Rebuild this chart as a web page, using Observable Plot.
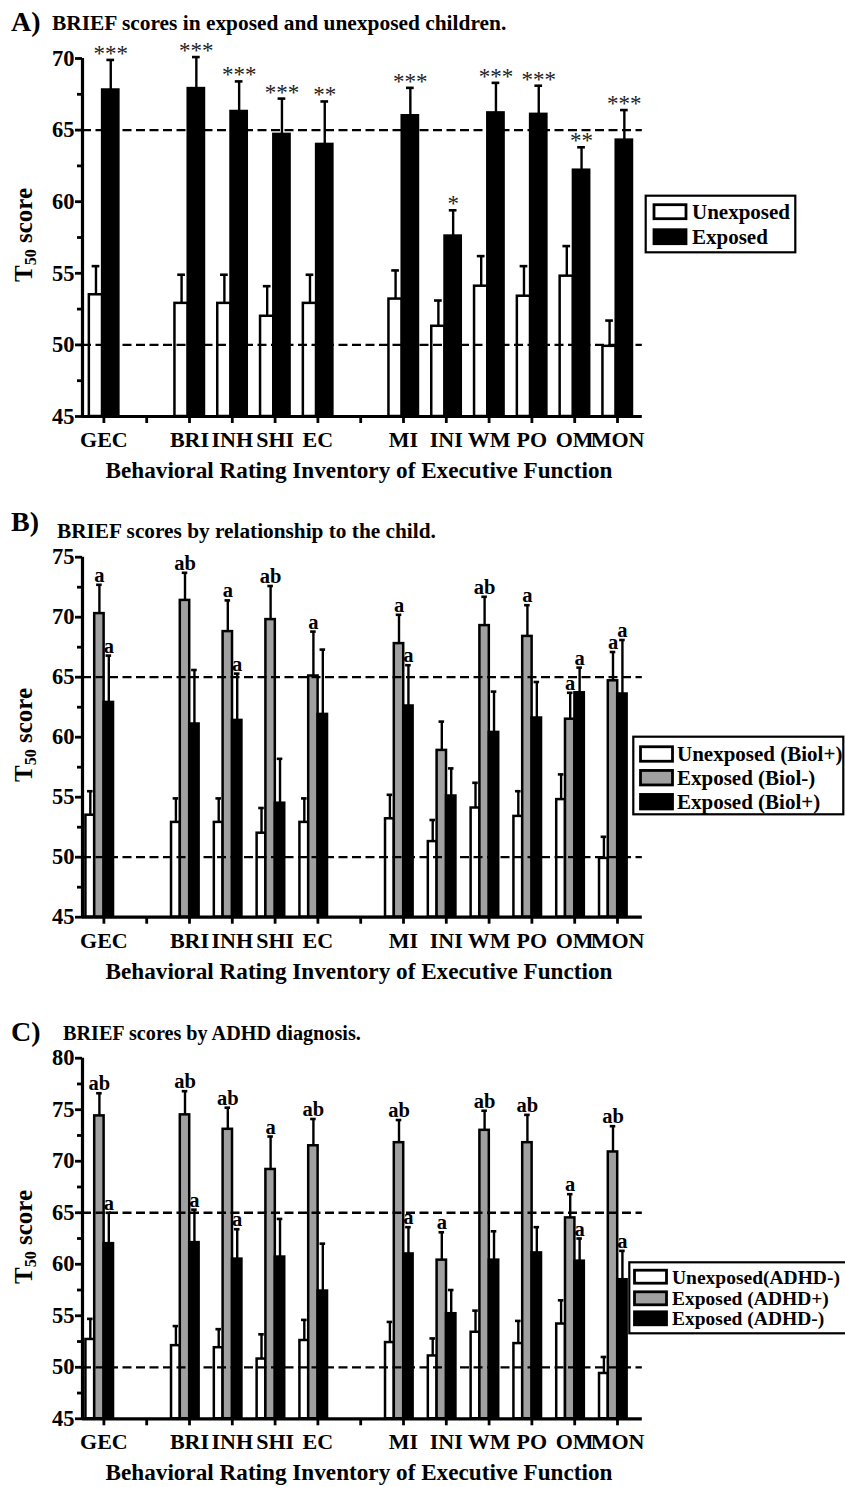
<!DOCTYPE html>
<html>
<head>
<meta charset="utf-8">
<script src="https://cdn.jsdelivr.net/npm/d3@7"></script>
<script src="https://cdn.jsdelivr.net/npm/@observablehq/plot@0.6"></script>
<style>
  html, body { margin: 0; padding: 0; background: white; }
  #root { position: relative; width: 845px; height: 1487px; overflow: hidden; background: white; }
  #root > svg { position: absolute; left: 0; }
  text { font-family: "Liberation Serif", "Times New Roman", serif; }
</style>
</head>
<body>
<div id="root"></div>
<script>
// ---------- DATA ----------
const slots = ["GEC", "", "BRI", "INH", "SHI", "EC", "", "MI", "INI", "WM", "PO", "OM", "MON"];
const scalesBRIEF = ["GEC", "BRI", "INH", "SHI", "EC", "MI", "INI", "WM", "PO", "OM", "MON"];

// Panel A
const aUnexposedMean = [53.5, 52.9, 52.9, 52.0, 52.9, 53.2, 51.3, 54.1, 53.4, 54.8, 49.9];
const aUnexposedSem  = [2.0, 2.0, 2.0, 2.1, 2.0, 2.0, 1.8, 2.1, 2.1, 2.1, 1.8];
const aExposedMean   = [67.8, 67.9, 66.3, 64.7, 64.0, 66.0, 57.6, 66.2, 66.1, 62.2, 64.3];
const aExposedSem    = [2.1, 2.2, 2.1, 2.5, 3.0, 1.95, 1.8, 2.1, 2.0, 1.6, 2.1];
const aStars         = ["***", "***", "***", "***", "**", "***", "*", "***", "***", "**", "***"];

// Panel B
const bUnexposedMean = [53.5, 52.9, 52.9, 52.0, 52.9, 53.2, 51.3, 54.1, 53.4, 54.8, 49.9];
const bUnexposedSem  = [2.0, 2.0, 2.0, 2.1, 2.0, 2.0, 1.8, 2.1, 2.1, 2.1, 1.8];
const bBiolMinusMean = [70.3, 71.4, 68.8, 69.8, 65.1, 67.8, 58.9, 69.3, 68.4, 61.5, 64.7];
const bBiolMinusSem  = [2.4, 2.3, 2.6, 2.8, 3.7, 2.4, 2.4, 2.4, 2.6, 2.2, 2.4];
const bBiolPlusMean  = [62.9, 61.1, 61.4, 54.5, 61.9, 62.6, 55.1, 60.4, 61.6, 63.7, 63.6];
const bBiolPlusSem   = [3.9, 4.5, 3.9, 3.7, 5.4, 3.4, 2.3, 3.4, 3.0, 2.1, 4.5];
const bBiolMinusSig  = ["a", "ab", "a", "ab", "a", "a", "", "ab", "a", "a", "a"];
const bBiolPlusSig   = ["a", "", "a", "", "", "a", "", "", "", "a", "a"];

// Panel C
const cUnexposedMean = [52.7, 52.1, 51.9, 50.8, 52.6, 52.4, 51.1, 53.4, 52.3, 54.2, 49.4];
const cUnexposedSem  = [2.0, 1.9, 1.8, 2.4, 2.0, 2.0, 1.7, 2.1, 2.2, 2.3, 1.6];
const cAdhdPlusMean  = [74.4, 74.5, 73.1, 69.2, 71.5, 71.8, 60.4, 73.0, 71.8, 64.5, 70.9];
const cAdhdPlusSem   = [2.2, 2.3, 2.1, 3.2, 2.6, 2.2, 2.7, 1.9, 2.7, 2.3, 2.5];
const cAdhdMinusMean = [62.0, 62.1, 60.5, 60.7, 57.4, 61.0, 55.2, 60.4, 61.1, 60.3, 58.5];
const cAdhdMinusSem  = [3.0, 3.2, 2.9, 3.7, 4.6, 2.6, 2.3, 2.8, 2.5, 2.2, 2.8];
const cAdhdPlusSig   = ["ab", "ab", "ab", "a", "ab", "ab", "a", "ab", "ab", "a", "ab"];
const cAdhdMinusSig  = ["a", "a", "a", "", "", "a", "", "", "", "a", "a"];

const xTitle = "Behavioral Rating Inventory of Executive Function";

// ---------- LAYOUT ----------
const W = 845;
const ML = 82, MR = W - 638.4;
const GRAY = "#a0a0a0";
const root = document.getElementById("root");

function rowsOf(mean, sem, sig) {
  return scalesBRIEF.map((k, i) => ({
    slot: slots.indexOf(k), mean: mean[i], top: mean[i] + sem[i], sig: sig ? sig[i] : ""
  }));
}

function panel(cfg) {
  const marks = [];
  const series = cfg.series.map(s => ({...s, rows: rowsOf(s.mean, s.sem, s.sig)}));
  for (const s of series) {
    marks.push(Plot.rect(s.rows, {
      x1: d => d.slot + s.off[0], x2: d => d.slot + s.off[1],
      y1: 45, y2: "mean", fill: s.fill, stroke: "black", strokeWidth: 2.5
    }));
  }
  marks.push(Plot.ruleY([50, 65], {x1: -0.5, x2: 12.58, stroke: "black", strokeWidth: 2.3, strokeDasharray: "9,4.5"}));
  for (const s of series) {
    const c = d => d.slot + (s.off[0] + s.off[1]) / 2;
    marks.push(Plot.ruleX(s.rows, {x: c, y1: "mean", y2: "top", stroke: "black", strokeWidth: 2.4}));
    marks.push(Plot.ruleY(s.rows, {y: "top", x1: d => c(d) - cfg.cap, x2: d => c(d) + cfg.cap, stroke: "black", strokeWidth: 2.6}));
    if (s.sig) {
      marks.push(Plot.text(s.rows.filter(d => d.sig), {
        x: c, y: "top", text: "sig", lineAnchor: "bottom",
        dy: cfg.sigDy, fontSize: cfg.sigSize, fontWeight: cfg.sigWeight, fill: cfg.sigFill
      }));
    }
  }
  const majors = d3.range(45, cfg.yMax + 0.1, 5);
  const minors = d3.range(47.5, cfg.yMax, 5);
  marks.push(Plot.axisY({ticks: minors, tickSize: 5, tickFormat: () => "", strokeWidth: 2.8, label: null}));
  marks.push(Plot.axisY({ticks: majors, tickSize: 7, tickPadding: 1, fontSize: 22.5, fontWeight: "bold", strokeWidth: 2.8, label: null}));
  marks.push(Plot.axisX({ticks: d3.range(slots.length), tickFormat: i => slots[i], tickSize: 7, tickPadding: 8, fontSize: 22, fontWeight: "bold", strokeWidth: 2.8, label: null}));
  marks.push(Plot.ruleX([-0.5], {y1: 45, y2: cfg.yMax, stroke: "black", strokeWidth: 3.2}));
  marks.push(Plot.ruleY([45], {x1: -0.5, x2: 12.58, stroke: "black", strokeWidth: 3.2}));

  const svg = Plot.plot({
    width: W, height: cfg.height,
    marginTop: cfg.mt, marginBottom: cfg.mb, marginLeft: ML, marginRight: MR,
    x: {domain: [-0.5, 12.5], label: null},
    y: {domain: [45, cfg.yMax], label: null},
    style: {fontFamily: '"Liberation Serif", serif', color: "black", background: "white", overflow: "visible"},
    marks
  });
  svg.style.top = cfg.top + "px";
  root.appendChild(svg);
}

const offA = {w: [-0.34, -0.03], k: [-0.03, 0.35]};
const off3 = {w: [-0.42, -0.215], g: [-0.215, 0.005], k: [0.005, 0.225]};

panel({
  top: 0, height: 495, mt: 58, mb: 79, yMax: 70, cap: 0.09,
  sigDy: 1, sigSize: 23, sigWeight: "normal", sigFill: "#222",
  series: [
    {mean: aUnexposedMean, sem: aUnexposedSem, fill: "white", off: offA.w},
    {mean: aExposedMean, sem: aExposedSem, fill: "black", off: offA.k, sig: aStars}
  ]
});
panel({
  top: 495, height: 495, mt: 61.7, mb: 73.3, yMax: 75, cap: 0.065,
  sigDy: -3, sigSize: 20.5, sigWeight: "bold", sigFill: "black",
  series: [
    {mean: bUnexposedMean, sem: bUnexposedSem, fill: "white", off: off3.w},
    {mean: bBiolMinusMean, sem: bBiolMinusSem, fill: GRAY, off: off3.g, sig: bBiolMinusSig},
    {mean: bBiolPlusMean, sem: bBiolPlusSem, fill: "black", off: off3.k, sig: bBiolPlusSig}
  ]
});
panel({
  top: 990, height: 497, mt: 67.7, mb: 68.7, yMax: 80, cap: 0.065,
  sigDy: -3, sigSize: 20.5, sigWeight: "bold", sigFill: "black",
  series: [
    {mean: cUnexposedMean, sem: cUnexposedSem, fill: "white", off: off3.w},
    {mean: cAdhdPlusMean, sem: cAdhdPlusSem, fill: GRAY, off: off3.g, sig: cAdhdPlusSig},
    {mean: cAdhdMinusMean, sem: cAdhdMinusSem, fill: "black", off: off3.k, sig: cAdhdMinusSig}
  ]
});

// ---------- TITLES, AXIS TITLES, LEGENDS ----------
const ov = d3.select(root).append("svg")
  .attr("width", W).attr("height", 1487)
  .style("top", "0px").style("pointer-events", "none")
  .attr("font-family", '"Liberation Serif", serif').attr("font-weight", "bold");

const titles = [
  {letter: "A)", text: "BRIEF scores in exposed and unexposed children.", lx: 11, ly: 31, tx: 52, ty: 30, ts: 21.4},
  {letter: "B)", text: "BRIEF scores by relationship to the child.", lx: 11, ly: 531, tx: 57, ty: 538, ts: 21.3},
  {letter: "C)", text: "BRIEF scores by ADHD diagnosis.", lx: 11, ly: 1041, tx: 63, ty: 1040, ts: 20.2}
];
for (const t of titles) {
  ov.append("text").attr("x", t.lx).attr("y", t.ly).attr("font-size", 28).text(t.letter);
  ov.append("text").attr("x", t.tx).attr("y", t.ty).attr("font-size", t.ts).text(t.text);
}

const axes = [{cy: 235, base: 416}, {cy: 735, base: 916.7}, {cy: 1237, base: 1418.3}];
for (const a of axes) {
  const yt = ov.append("text").attr("transform", `translate(32,${a.cy}) rotate(-90)`)
    .attr("text-anchor", "middle").attr("font-size", 25);
  yt.append("tspan").text("T");
  yt.append("tspan").attr("font-size", 16).attr("dy", 4).text("50");
  yt.append("tspan").attr("dy", -4).text(" score");
  ov.append("text").attr("x", 359).attr("y", a.base + 62).attr("text-anchor", "middle")
    .attr("font-size", 23.2).text(xTitle);
}

const legends = [
  {box: [645.7, 195.7, 149.6, 56.6], sx: 654, sh: 14, tx: 692, fs: 21,
   items: [["Unexposed", "white", 211.7], ["Exposed", "black", 236.7]]},
  {box: [633.3, 736.7, 210, 77.6], sx: 640.5, sh: 14.5, tx: 677, fs: 21,
   items: [["Unexposed (Biol+)", "white", 754], ["Exposed (Biol-)", GRAY, 777.7], ["Exposed (Biol+)", "black", 801.7]]},
  {box: [629.3, 1262.3, 220, 71], sx: 634.5, sh: 13, tx: 672, fs: 19.5,
   items: [["Unexposed(ADHD-)", "white", 1276.7], ["Exposed (ADHD+)", GRAY, 1298.3], ["Exposed (ADHD-)", "black", 1318.3]]}
];
for (const L of legends) {
  ov.append("rect").attr("x", L.box[0]).attr("y", L.box[1]).attr("width", L.box[2]).attr("height", L.box[3])
    .attr("fill", "white").attr("stroke", "black").attr("stroke-width", 2.2);
  for (const [label, fill, cy] of L.items) {
    ov.append("rect").attr("x", L.sx).attr("y", cy - L.sh / 2).attr("width", 32).attr("height", L.sh)
      .attr("fill", fill).attr("stroke", "black").attr("stroke-width", 2.8);
    ov.append("text").attr("x", L.tx).attr("y", cy + 7).attr("font-size", L.fs).text(label);
  }
}
</script>
</body>
</html>
